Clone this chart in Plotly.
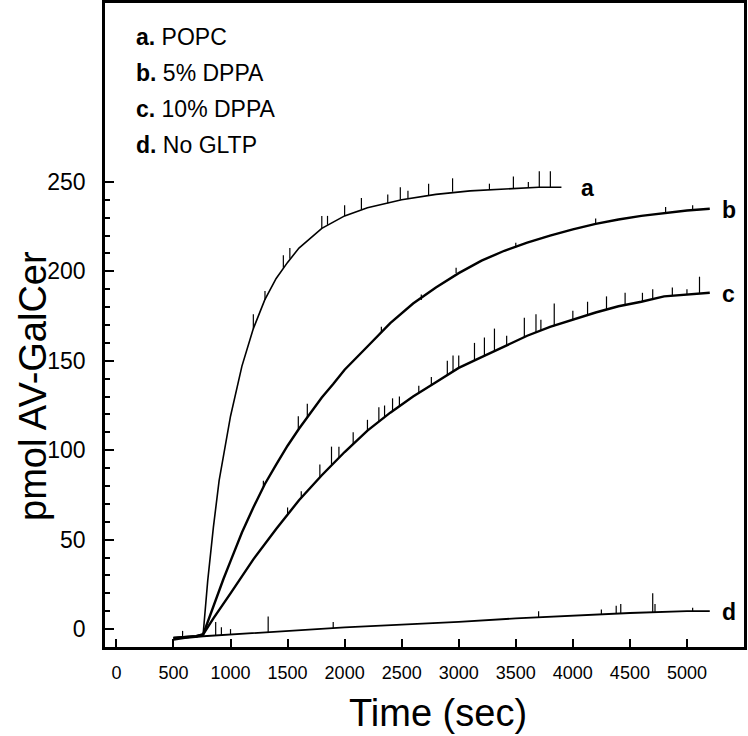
import plotly.graph_objects as go

# ---- data ----
a_t = [500, 600, 700, 760, 800, 850, 900, 1000, 1100, 1200, 1300, 1400, 1500, 1600, 1800, 2000, 2200, 2500, 2800, 3100, 3400, 3700, 3900]
a_v = [-5, -4.5, -4, -3, 27, 57, 83, 119, 147, 168, 184, 196, 205, 213, 224, 231, 235.5, 240, 243, 245, 246, 247, 247]

b_t = [500, 600, 700, 760, 850, 938, 1000, 1100, 1200, 1300, 1400, 1500, 1600, 1700, 1800, 1900, 2000, 2200, 2400, 2600, 2800, 3000, 3200, 3400, 3600, 3800, 4000, 4200, 4400, 4600, 4800, 5000, 5200]
b_v = [-5, -4.5, -4, -3, 13, 28, 38, 54, 68, 81, 92, 102.5, 112, 121, 129.5, 137, 145, 158, 171, 182, 191, 199, 206, 211.5, 216, 220, 223.5, 226.5, 229, 231, 232.5, 234, 235]

c_t = [500, 600, 700, 760, 850, 1000, 1200, 1400, 1600, 1700, 1800, 2000, 2200, 2400, 2600, 2800, 3000, 3200, 3400, 3600, 3800, 4000, 4200, 4400, 4600, 4800, 5000, 5200]
c_v = [-5, -4.5, -4, -3, 6, 20, 39, 56, 72, 79, 86, 99, 111, 121, 130, 138, 146, 152, 158, 164, 169, 173, 177, 180.5, 183, 186, 187, 188]

d_t = [500, 600, 760, 1000, 1500, 2000, 2500, 3000, 3500, 4000, 4500, 5000, 5200]
d_v = [-6, -5, -4, -3, -1, 1, 2.5, 4, 6, 7.5, 9, 10, 10]

# noise spikes (time, baseline, peak)
a_spk_t = [1200, 1302, 1463, 1520, 1800, 1850, 2000, 2147, 2378, 2488, 2555, 2736, 2946, 3269, 3479, 3610, 3706, 3803]
a_spk_b = [168, 184, 202, 207, 224, 226, 231, 234.5, 238, 240, 241, 242.5, 244.5, 245.8, 246.3, 246.7, 247, 247]
a_spk_p = [176, 189, 209, 213, 231, 231, 237, 241, 243, 247, 245, 249, 252, 249, 253, 250, 256, 256]

b_spk_t = [1288, 1594, 1673, 2322, 2672, 2977, 3500, 4200, 4813, 5050]
b_spk_b = [79, 112, 118, 166, 184, 199, 213.5, 226.5, 232.5, 234]
b_spk_p = [83, 119, 126, 169, 187, 202, 216, 229.5, 236, 237]

c_spk_t = [1500, 1620, 1783, 1885, 1950, 2075, 2200, 2300, 2350, 2420, 2480, 2650, 2760, 2900, 2950, 3000, 3138, 3225, 3313, 3420, 3575, 3677, 3720, 3837, 4000, 4129, 4295, 4458, 4610, 4700, 4872, 5000, 5110]
c_spk_b = [64, 73, 85, 92, 96, 103.5, 111, 116, 118.5, 122, 124.5, 132, 136.5, 142, 144, 146, 150, 153, 155.5, 158.5, 163, 166, 167, 170, 173, 175.5, 178.5, 181, 183, 184.5, 186.5, 187, 187.5]
c_spk_p = [68, 77, 92, 102, 102, 110, 117, 124, 125, 129, 130, 136, 141, 150, 153, 153, 160, 163, 168, 164, 174, 176, 173, 182, 178, 183, 186, 188, 188, 190, 191, 190, 197]

d_spk_t = [580, 870, 920, 1000, 1330, 1900, 3700, 4250, 4380, 4420, 4700, 4720, 5050]
d_spk_b = [-5.2, -3.5, -3.3, -3, -1.7, 0.6, 6.6, 8.2, 8.6, 8.7, 9.4, 9.4, 10]
d_spk_p = [-1, 4, 1, 0, 7, 4, 10, 11, 13, 14, 20, 14, 12]

curve_letters = ["a", "b", "c", "d"]
legend_names = ["POPC", "5% DPPA", "10% DPPA", "No GLTP"]

x_ticks = [0, 500, 1000, 1500, 2000, 2500, 3000, 3500, 4000, 4500, 5000]
y_ticks = [0, 50, 100, 150, 200, 250]
y_minor = [v for v in range(-10, 251, 10) if v % 50 != 0]

x_title = "Time (sec)"
y_title = "pmol AV-GalCer"

FONT = "Liberation Sans, Arial, Helvetica, sans-serif"

fig = go.Figure()

def spikes(ts, bs, ps):
    xs, ys = [], []
    for t, b, p in zip(ts, bs, ps):
        xs += [t, t, None]
        ys += [b, p, None]
    return xs, ys

series = [
    (a_t, a_v, a_spk_t, a_spk_b, a_spk_p, 1.6, 18),
    (b_t, b_v, b_spk_t, b_spk_b, b_spk_p, 2.4, 10),
    (c_t, c_v, c_spk_t, c_spk_b, c_spk_p, 2.4, 10),
    (d_t, d_v, d_spk_t, d_spk_b, d_spk_p, 1.8, 10),
]

for (t, v, st, sb, sp, w, xs), letter in zip(series, curve_letters):
    fig.add_trace(go.Scatter(x=t, y=v, mode="lines", line=dict(color="black", width=w),
                             showlegend=False, hoverinfo="skip"))
    sx, sy = spikes(st, sb, sp)
    fig.add_trace(go.Scatter(x=sx, y=sy, mode="lines", line=dict(color="black", width=1.2),
                             showlegend=False, hoverinfo="skip"))
    fig.add_annotation(x=t[-1], y=v[-1], text="<b>%s</b>" % letter, showarrow=False,
                       xanchor="left", yanchor="middle", xshift=xs, yshift=-1,
                       font=dict(family=FONT, size=23, color="black"))

leg_y = [0.947, 0.891, 0.835, 0.779]
for letter, name, yy in zip(curve_letters, legend_names, leg_y):
    fig.add_annotation(xref="paper", yref="paper", x=0.045, y=yy,
                       text="<b>%s.</b> %s" % (letter, name), showarrow=False,
                       xanchor="left", yanchor="middle",
                       font=dict(family=FONT, size=23, color="black"))

# axis titles (placed as in the reference)
fig.add_annotation(xref="paper", yref="paper", x=0.521, y=-0.1025, text=x_title,
                   showarrow=False, xanchor="center", yanchor="middle",
                   font=dict(family=FONT, size=38, color="black"))
fig.add_annotation(xref="paper", yref="paper", x=-0.113, y=0.405, text=y_title,
                   showarrow=False, xanchor="center", yanchor="middle", textangle=-90,
                   font=dict(family=FONT, size=38, color="black"))

fig.update_xaxes(range=[-100, 5500], tickvals=x_ticks, ticktext=[str(v) for v in x_ticks],
                 ticks="inside", ticklen=8, tickwidth=2, tickcolor="black",
                 showline=True, linewidth=2.5, linecolor="black", mirror=True,
                 showgrid=False, zeroline=False, ticklabelstandoff=8, automargin=False,
                 tickfont=dict(family=FONT, size=18, color="black"))
fig.update_yaxes(range=[-10, 350], tickvals=y_ticks, ticktext=[str(v) for v in y_ticks],
                 ticks="inside", ticklen=9, tickwidth=2, tickcolor="black",
                 minor=dict(tickvals=y_minor, ticks="inside", ticklen=5, tickwidth=1.5, tickcolor="black"),
                 showline=True, linewidth=2.5, linecolor="black", mirror=True,
                 showgrid=False, zeroline=False, ticklabelstandoff=12, automargin=False,
                 tickfont=dict(family=FONT, size=23, color="black"))

fig.update_layout(width=748, height=736, margin=dict(l=105, r=4, t=3, b=89),
                  plot_bgcolor="white", paper_bgcolor="white")

fig.write_html("out.html", config={"displayModeBar": False},
               post_script="document.body.style.margin='0';document.body.style.overflow='hidden';")
